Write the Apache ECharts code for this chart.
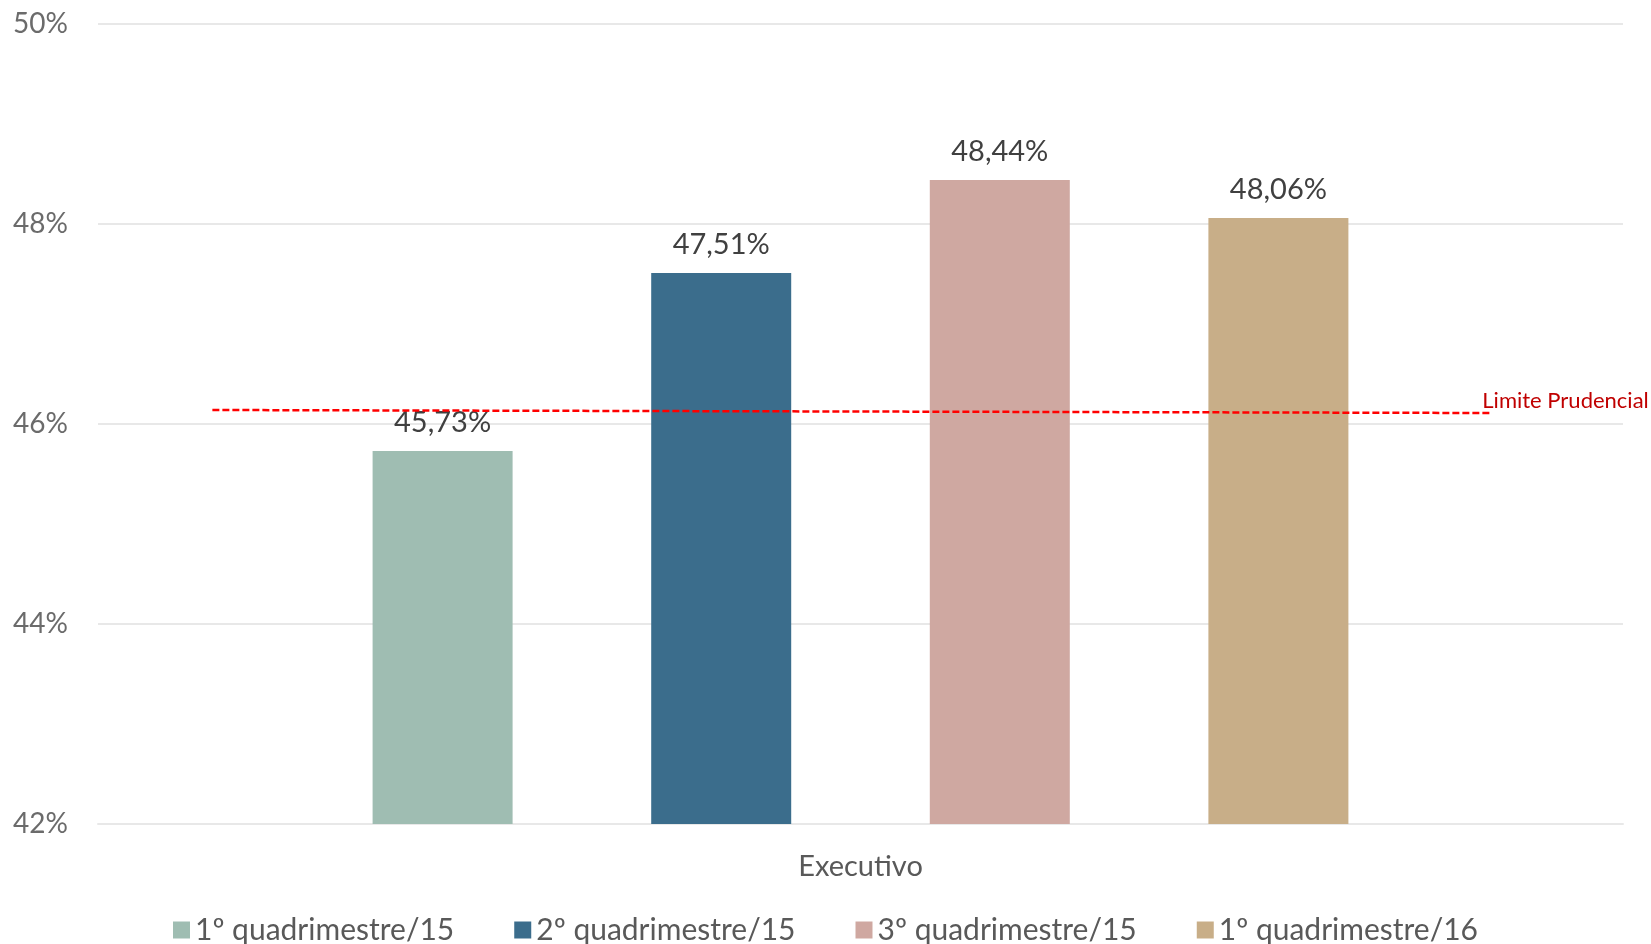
<!DOCTYPE html>
<html>
<head>
<meta charset="utf-8">
<script src="https://cdn.jsdelivr.net/npm/echarts@6/dist/echarts.min.js"></script>
<style>
html,body{margin:0;padding:0;background:#fff;}
#chart{width:1651px;height:944px;}
</style>
</head>
<body>
<div id="chart"></div>
<script>
const categories = ['Executivo'];
const seriesNames = ['1º quadrimestre/15', '2º quadrimestre/15', '3º quadrimestre/15', '1º quadrimestre/16'];
const seriesValues = [45.73, 47.51, 48.44, 48.06];
const seriesColors = ['#9FBDB2', '#3B6D8C', '#CFA8A1', '#C8AE88'];
const yTicks = [42, 44, 46, 48, 50];
const limitLabel = 'Limite Prudencial';
const limitLine = [[7.5, 46.14], [91.3, 46.11]];

const font = 'Lato, "Open Sans", sans-serif';
const chart = echarts.init(document.getElementById('chart'), null, {renderer: 'canvas'});

const bars = seriesNames.map((name, i) => ({
  name: name,
  type: 'bar',
  xAxisIndex: 0,
  data: [seriesValues[i]],
  barWidth: 140,
  barGap: '99%',
  itemStyle: {color: seriesColors[i]},
  label: {
    show: true,
    position: 'top',
    distance: 14,
    fontFamily: font,
    fontSize: 29,
    color: '#404040',
    formatter: p => p.value.toFixed(2).replace('.', ',') + '%'
  },
  z: 2
}));

const option = {
  animation: false,
  textStyle: {fontFamily: font},
  grid: {left: 98, right: 28, top: 24, bottom: 120, containLabel: false},
  legend: {
    data: seriesNames,
    top: 910,
    left: 'center',
    itemWidth: 17,
    itemHeight: 17,
    itemGap: 60,
    icon: 'rect',
    textStyle: {fontFamily: font, fontSize: 30, color: '#595959'}
  },
  xAxis: [
    {
      type: 'category',
      data: categories,
      axisLine: {show: true, lineStyle: {color: '#E8E8E8', width: 2}},
      axisTick: {show: false},
      axisLabel: {fontFamily: font, fontSize: 29, color: '#595959', margin: 28}
    },
    {
      type: 'value',
      min: 0,
      max: 100,
      show: false
    }
  ],
  yAxis: {
    type: 'value',
    min: yTicks[0],
    max: yTicks[yTicks.length - 1],
    interval: 2,
    axisLine: {show: false},
    axisTick: {show: false},
    splitLine: {lineStyle: {color: '#E8E8E8', width: 2}},
    axisLabel: {fontFamily: font, fontSize: 28, color: '#6B6B6B', margin: 30, formatter: v => v + '%'}
  },
  series: bars.concat([{
    name: limitLabel,
    type: 'line',
    xAxisIndex: 1,
    symbol: 'none',
    data: limitLine,
    lineStyle: {color: '#FF0000', width: 2.5, type: [7, 3]},
    endLabel: {
      show: true,
      formatter: limitLabel,
      distance: 0,
      offset: [-8, -12],
      fontFamily: font,
      fontSize: 22,
      color: '#C00000'
    },
    z: 5
  }])
};
chart.setOption(option);
</script>
</body>
</html>
